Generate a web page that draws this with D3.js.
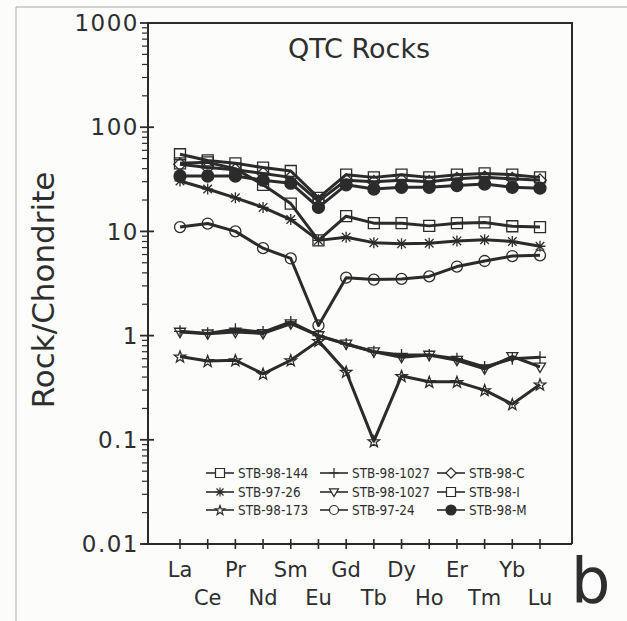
<!DOCTYPE html>
<html>
<head>
<meta charset="utf-8">
<script src="https://cdn.jsdelivr.net/npm/d3@7"></script>
<style>
  body { margin: 0; background: #fcfcfa; }
  svg { display: block; }
  text { fill: #2e2e2e; font-family: "DejaVu Sans", sans-serif; }
</style>
</head>
<body>
<svg id="chart"></svg>
<script>
// REE order on the x axis
const elements = ['La', 'Ce', 'Pr', 'Nd', 'Sm', 'Eu', 'Gd', 'Tb', 'Dy', 'Ho', 'Er', 'Tm', 'Yb', 'Lu'];

// chondrite-normalised values
const stb98_144  = [55, 48, 45, 41, 38, 21, 35, 33, 35, 33, 35, 36, 35, 33];
const stb98_1027p = [1.1, 1.05, 1.15, 1.08, 1.35, 1.0, 0.83, 0.7, 0.65, 0.65, 0.6, 0.5, 0.6, 0.62];
const stb98_C    = [44, 41, 39, 36, 33, 19.5, 31, 30, 31, 30, 32, 33, 32, 31];
const stb97_26   = [30.5, 25.5, 21, 17, 13, 8.2, 8.8, 7.8, 7.6, 7.7, 8.1, 8.3, 8.0, 7.2];
const stb98_1027t = [1.08, 1.04, 1.08, 1.05, 1.3, 1.0, 0.83, 0.7, 0.62, 0.65, 0.58, 0.48, 0.63, 0.5];
const stb98_I    = [45, 46, 40, 28, 18.5, 8.2, 14, 12, 12, 11.3, 12, 12.2, 11.2, 11];
const stb98_173  = [0.63, 0.57, 0.58, 0.43, 0.58, 0.89, 0.45, 0.097, 0.41, 0.36, 0.36, 0.3, 0.22, 0.34];
const stb97_24   = [11, 11.9, 10, 6.9, 5.5, 1.25, 3.6, 3.45, 3.5, 3.7, 4.6, 5.2, 5.8, 5.9];
const stb98_M    = [34, 34, 34, 31, 29, 17, 28, 25.5, 26.5, 26.5, 27.5, 28.5, 26.5, 26];

const yTicks = [1000, 100, 10, 1, 0.1, 0.01];
const yTickLabels = ['1000', '100', '10', '1', '0.1', '0.01'];

// legend order (row by row)
const series = [
    {name: 'STB-98-144',  marker: 'square',   values: stb98_144},
    {name: 'STB-98-1027', marker: 'plus',     values: stb98_1027p},
    {name: 'STB-98-C',    marker: 'diamond',  values: stb98_C},
    {name: 'STB-97-26',   marker: 'asterisk', values: stb97_26},
    {name: 'STB-98-1027', marker: 'triDown',  values: stb98_1027t},
    {name: 'STB-98-I',    marker: 'square',   values: stb98_I},
    {name: 'STB-98-173',  marker: 'star',     values: stb98_173},
    {name: 'STB-97-24',   marker: 'circle',   values: stb97_24},
    {name: 'STB-98-M',    marker: 'filled',   values: stb98_M}
];

const W = 627, H = 621;
const frame = {left: 148, right: 572, top: 23, bottom: 544};
const ink = '#2b2b2b';

const svg = d3.select('#chart').attr('width', W).attr('height', H);

// faint border of the scanned page
svg.append('path')
    .attr('d', `M16,${H}V7H${W}`)
    .attr('fill', 'none')
    .attr('stroke', '#a8a8a8')
    .attr('stroke-width', 1);

const x = d3.scalePoint().domain(elements).range([180, 540]);
const y = d3.scaleLog().domain([0.01, 1000]).range([frame.bottom, frame.top]);

// marker outlines, centred on 0,0
function markerPath(type, s) {
    switch (type) {
        case 'square': return `M${-s},${-s}h${2*s}v${2*s}h${-2*s}Z`;
        case 'diamond': return `M0,${-s*1.15}L${s*1.15},0L0,${s*1.15}L${-s*1.15},0Z`;
        case 'triDown': return `M${-s},${-s*0.7}L${s},${-s*0.7}L0,${s*1.0}Z`;
        case 'plus': return `M${-s*1.1},0H${s*1.1}M0,${-s*1.1}V${s*1.1}`;
        case 'asterisk': {
            const d = s * 0.78;
            return `M${-s},0H${s}M0,${-s}V${s}M${-d},${-d}L${d},${d}M${d},${-d}L${-d},${d}`;
        }
        case 'star': {
            const pts = d3.range(10).map(i => {
                const r = i % 2 ? s * 0.45 : s * 1.1;
                const a = -Math.PI / 2 + i * Math.PI / 5;
                return [r * Math.cos(a), r * Math.sin(a) + s * 0.1];
            });
            return 'M' + pts.map(p => p.join(',')).join('L') + 'Z';
        }
        default: return `M${s},0A${s},${s} 0 1 1 ${-s},0A${s},${s} 0 1 1 ${s},0`;
    }
}

// frame: axes plus top and right sides
svg.append('path')
    .attr('d', `M${frame.left},${frame.bottom}V${frame.top}H${frame.right}V${frame.bottom}`)
    .attr('fill', 'none').attr('stroke', ink).attr('stroke-width', 2);
svg.append('line')
    .attr('x1', frame.left - 5).attr('x2', frame.right)
    .attr('y1', frame.bottom).attr('y2', frame.bottom)
    .attr('stroke', ink).attr('stroke-width', 2);

// y ticks: majors cross the axis, minors point out
const minor = [];
yTicks.slice(1).forEach(t => d3.range(2, 10).forEach(m => minor.push(t * m)));
svg.append('g').selectAll('line.minor').data(minor).join('line')
    .attr('x1', frame.left - 6).attr('x2', frame.left)
    .attr('y1', d => y(d)).attr('y2', d => y(d))
    .attr('stroke', ink).attr('stroke-width', 1.2);
svg.append('g').selectAll('line.major').data(yTicks).join('line')
    .attr('x1', frame.left - 8).attr('x2', frame.left + 6)
    .attr('y1', d => y(d)).attr('y2', d => y(d))
    .attr('stroke', ink).attr('stroke-width', 1.8);
svg.append('g').selectAll('text').data(yTicks).join('text')
    .attr('x', 139).attr('y', d => y(d))
    .attr('dy', '0.36em')
    .attr('text-anchor', 'end')
    .attr('font-size', 23)
    .attr('letter-spacing', 1.5)
    .text((d, i) => yTickLabels[i]);

// x ticks are small crosses on the bottom axis
svg.append('g').selectAll('line').data(elements).join('line')
    .attr('x1', d => x(d)).attr('x2', d => x(d))
    .attr('y1', frame.bottom - 5).attr('y2', frame.bottom + 5)
    .attr('stroke', ink).attr('stroke-width', 1.6);
svg.append('g').selectAll('text').data(elements).join('text')
    .attr('x', d => x(d))
    .attr('y', (d, i) => i % 2 ? 605 : 577)
    .attr('text-anchor', 'middle')
    .attr('font-size', 21)
    .text(d => d);

// axis title, chart title, panel letter
svg.append('text')
    .attr('transform', 'translate(54,290) rotate(-90)')
    .attr('text-anchor', 'middle')
    .attr('font-size', 31)
    .text('Rock/Chondrite');
svg.append('text')
    .attr('x', 359).attr('y', 58)
    .attr('text-anchor', 'middle')
    .attr('font-size', 27)
    .text('QTC Rocks');
svg.append('text')
    .attr('x', 571).attr('y', 602)
    .attr('font-size', 62)
    .text('b');

// data lines and markers
const line = d3.line()
    .x((d, i) => x(elements[i]))
    .y(d => y(d));

const plot = svg.append('g');
series.forEach(s => {
    const g = plot.append('g');
    g.append('path')
        .attr('d', line(s.values))
        .attr('fill', 'none')
        .attr('stroke', ink)
        .attr('stroke-width', 3)
        .attr('stroke-linejoin', 'round');
    g.selectAll('path.m').data(s.values).join('path')
        .attr('class', 'm')
        .attr('transform', (d, i) => `translate(${x(elements[i])},${y(d)})`)
        .attr('d', markerPath(s.marker, s.marker === 'filled' ? 6 : 5.5))
        .attr('fill', s.marker === 'filled' ? ink : 'none')
        .attr('stroke', ink)
        .attr('stroke-width', 1.3);
});

// legend, 3 columns x 3 rows
const legCols = [220, 334, 451];
const legRows = [473, 492, 510];
const legend = svg.append('g').selectAll('g').data(series).join('g')
    .attr('transform', (d, i) => `translate(${legCols[i % 3]},${legRows[Math.floor(i / 3)]})`);
legend.append('line')
    .attr('x1', -14).attr('x2', 14)
    .attr('stroke', ink).attr('stroke-width', 1.6);
legend.append('path')
    .attr('d', d => markerPath(d.marker, d.marker === 'filled' ? 5 : 4.5))
    .attr('fill', d => d.marker === 'filled' ? ink : '#fcfcfa')
    .attr('stroke', ink)
    .attr('stroke-width', 1.2);
legend.append('text')
    .attr('transform', 'translate(18,0) scale(0.86,1)')
    .attr('dy', '0.36em')
    .attr('font-family', '"Liberation Sans", sans-serif')
    .attr('font-size', 14)
    .text(d => d.name);
</script>
</body>
</html>
